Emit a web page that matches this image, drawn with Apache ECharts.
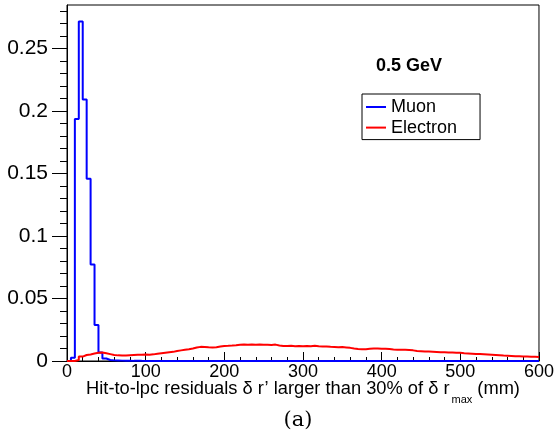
<!DOCTYPE html>
<html>
<head>
<meta charset="utf-8">
<script src="https://cdn.jsdelivr.net/npm/echarts@6/dist/echarts.min.js"></script>
<style>
html,body{margin:0;padding:0;background:#fff;}
#chart{width:557px;height:439px;}
</style>
</head>
<body>
<div id="chart"></div>
<script>
// ---- data ----
const binWidth = 5; // mm, bins from 0 to 600
const muon = [
  0, 0.0025, 0.1935, 0.2715, 0.209, 0.1457, 0.0772, 0.0288, 0.0068, 0.002,
  0.0008, 0.0005, 0.0004, 0.0003, 0.0002, 0.0002, 0.0001, 0.0001, 0.0001, 0,
  0, 0, 0, 0, 0, 0, 0, 0, 0, 0,
  0, 0, 0, 0, 0, 0, 0, 0, 0, 0,
  0, 0, 0, 0, 0, 0, 0, 0, 0, 0,
  0, 0, 0, 0, 0, 0, 0, 0, 0, 0,
  0, 0, 0, 0, 0, 0, 0, 0, 0, 0,
  0, 0, 0, 0, 0, 0, 0, 0, 0, 0,
  0, 0, 0, 0, 0, 0, 0, 0, 0, 0,
  0, 0, 0, 0, 0, 0, 0, 0, 0, 0,
  0, 0, 0, 0, 0, 0, 0, 0, 0, 0,
  0, 0, 0, 0, 0, 0, 0, 0, 0, 0
];
const electron = [
  0, 0, 0.0008, 0.0035, 0.0048, 0.0052, 0.0060, 0.0066, 0.0068, 0.0062,
  0.0055, 0.0048, 0.0045, 0.0043, 0.0044, 0.0046, 0.0048, 0.0050, 0.0049, 0.0051,
  0.0050, 0.0053, 0.0058, 0.0062, 0.0066, 0.0070, 0.0073, 0.0080, 0.0085, 0.0090,
  0.0094, 0.0100, 0.0108, 0.0113, 0.0112, 0.0109, 0.0107, 0.0110, 0.0116, 0.0120,
  0.0121, 0.0123, 0.0126, 0.0130, 0.0131, 0.0129, 0.0132, 0.0130, 0.0131, 0.0130,
  0.0129, 0.0128, 0.0131, 0.0124, 0.0120, 0.0119, 0.0121, 0.0118, 0.0119, 0.0117,
  0.0120, 0.0118, 0.0121, 0.0117, 0.0115, 0.0116, 0.0113, 0.0112, 0.0110, 0.0111,
  0.0108, 0.0105, 0.0100, 0.0096, 0.0094, 0.0093, 0.0097, 0.0099, 0.0100, 0.0098,
  0.0097, 0.0095, 0.0092, 0.0090, 0.0089, 0.0089, 0.0088, 0.0085, 0.0080, 0.0078,
  0.0076, 0.0075, 0.0074, 0.0072, 0.0070, 0.0069, 0.0068, 0.0067, 0.0066, 0.0065,
  0.0062, 0.0060, 0.0058, 0.0056, 0.0055, 0.0053, 0.0051, 0.0049, 0.0047, 0.0045,
  0.0043, 0.0042, 0.0040, 0.0038, 0.0037, 0.0036, 0.0035, 0.0034, 0.0033, 0.0032
];
const seriesNames = ['Muon', 'Electron'];
const yTickValues = [0, 0.05, 0.1, 0.15, 0.2, 0.25];
const yMinorTickValues = [0.01,0.02,0.03,0.04,0.06,0.07,0.08,0.09,0.11,0.12,0.13,0.14,
  0.16,0.17,0.18,0.19,0.21,0.22,0.23,0.24,0.26,0.27,0.28];
const xMin = 0, xMax = 600, xStep = 100;
const yMin = 0, yMax = 0.2846;

function histPoints(vals) {
  const pts = vals.map((v, i) => [i * binWidth, v]);
  pts.push([vals.length * binWidth, vals[vals.length - 1]]);
  return pts;
}

const FONT = "'Liberation Sans', Arial, Helvetica, sans-serif";
const chart = echarts.init(document.getElementById('chart'), null, {renderer: 'canvas'});
chart.setOption({
  animation: false,
  backgroundColor: '#fff',
  textStyle: {fontFamily: FONT},
  grid: {left: 67, right: 18, top: 5, bottom: 78, show: true, borderColor: '#000', borderWidth: 1, containLabel: false},
  xAxis: {
    type: 'value', min: xMin, max: xMax, interval: xStep,
    axisLine: {show: true, lineStyle: {color: '#000', width: 1}},
    axisTick: {show: true, inside: true, length: 9, lineStyle: {color: '#000'}},
    minorTick: {show: true, splitNumber: 5, length: 4, lineStyle: {color: '#000'}},
    splitLine: {show: false},
    axisLabel: {color: '#000', fontSize: 18, fontFamily: FONT, margin: 2}
  },
  yAxis: [{
    type: 'value', min: yMin, max: yMax, position: 'left',
    axisLine: {show: true, lineStyle: {color: '#000', width: 1}},
    axisTick: {show: true, inside: false, length: 15, customValues: yTickValues, lineStyle: {color: '#000'}},
    splitLine: {show: false},
    axisLabel: {color: '#000', fontSize: 21, fontFamily: FONT, margin: 19, customValues: yTickValues}
  }, {
    type: 'value', min: yMin, max: yMax, position: 'left', offset: 0,
    axisLine: {show: false},
    axisTick: {show: true, inside: false, length: 7, customValues: yMinorTickValues, lineStyle: {color: '#000'}},
    splitLine: {show: false},
    axisLabel: {show: false}
  }],
  legend: {
    orient: 'vertical', left: 362, top: 94,
    backgroundColor: '#fff', borderColor: '#000', borderWidth: 1,
    padding: [4, 23, 3, 4], itemGap: 2.6, itemWidth: 20, itemHeight: 2,
    icon: 'rect',
    textStyle: {fontSize: 18, color: '#000', fontFamily: FONT, lineHeight: 18, padding: [0, 0, 0, 0]},
    data: seriesNames
  },
  graphic: [
    {type: 'text', left: 376, top: 57, style: {text: '0.5 GeV', font: "bold 18px " + FONT, fill: '#000'}},
    {type: 'text', x: 303, y: 390, style: {
      text: '{a|Hit-to-lpc residuals δ r\u2019 larger than 30% of δ r}{s|max}{a| (mm)}',
      align: 'center', verticalAlign: 'middle',
      rich: {
        a: {fontSize: 18.3, fontFamily: FONT, fill: '#000', lineHeight: 20, verticalAlign: 'top'},
        s: {fontSize: 11, fontFamily: FONT, fill: '#000', lineHeight: 12, padding: [14, 0, 0, 2], verticalAlign: 'top'}
      }
    }},
    {type: 'text', x: 298, y: 421, style: {text: '(a)', font: "21px 'DejaVu Serif', serif", fill: '#000', align: 'center', verticalAlign: 'middle'}}
  ],
  series: [
    {name: seriesNames[0], type: 'line', step: 'end', data: histPoints(muon), symbol: 'none', clip: false,
     color: '#0000ff', lineStyle: {color: '#0000ff', width: 2}, yAxisIndex: 0, z: 3},
    {name: seriesNames[1], type: 'line', step: 'end', data: histPoints(electron), symbol: 'none', clip: false,
     color: '#ff0000', lineStyle: {color: '#ff0000', width: 2}, yAxisIndex: 0, z: 4}
  ]
});
</script>
</body>
</html>
